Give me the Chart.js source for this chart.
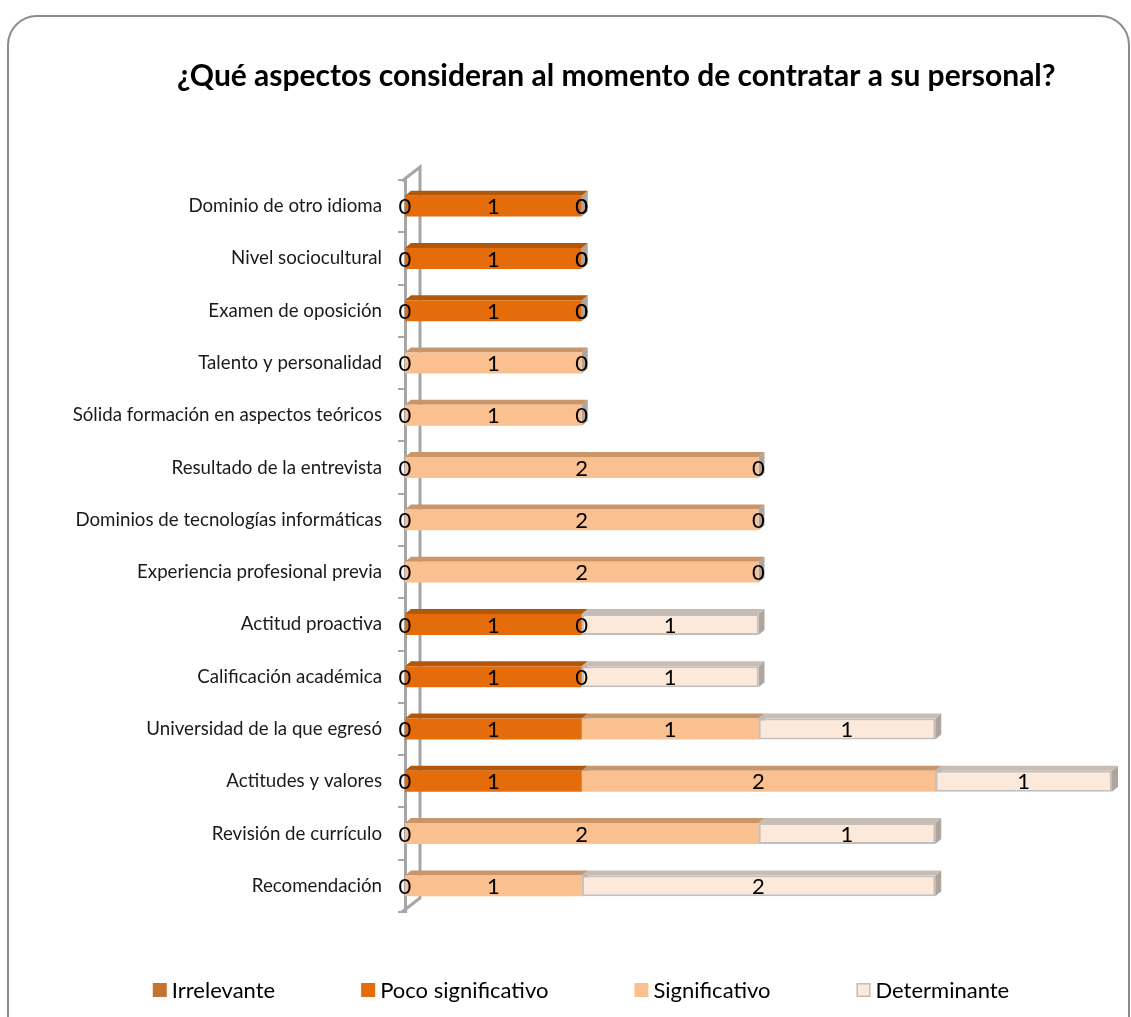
<!DOCTYPE html>
<html>
<head>
<meta charset="utf-8">
<script src="https://cdn.jsdelivr.net/npm/chart.js@4.4.1/dist/chart.umd.min.js"></script>
<style>
  html, body { margin: 0; padding: 0; background: #fff; overflow: hidden; }
  #wrap { position: relative; width: 1131px; height: 1017px; overflow: hidden; }
  #frame {
    position: absolute; left: 7px; top: 15px; width: 1119px; height: 1100px;
    border: 2px solid #8c8c8c; border-radius: 30px;
  }
  #chart { position: absolute; left: 0; top: 0; }
</style>
</head>
<body>
<div id="wrap">
  <div id="frame"></div>
  <canvas id="chart" width="1131" height="1017"></canvas>
</div>
<script>
const chartTitle = '¿Qué aspectos consideran al momento de contratar a su personal?';
const categories = [
    'Dominio de otro idioma',
    'Nivel sociocultural',
    'Examen de oposición',
    'Talento y personalidad',
    'Sólida formación en aspectos teóricos',
    'Resultado de la entrevista',
    'Dominios de tecnologías informáticas',
    'Experiencia profesional previa',
    'Actitud proactiva',
    'Calificación académica',
    'Universidad de la que egresó',
    'Actitudes y valores',
    'Revisión de currículo',
    'Recomendación'
];
const seriesNames = ['Irrelevante', 'Poco significativo', 'Significativo', 'Determinante'];
const irrelevante       = [0, 0, 0, 0, 0, 0, 0, 0, 0, 0, 0, 0, 0, 0];
const pocoSignificativo = [1, 1, 1, null, null, null, null, null, 1, 1, 1, 1, null, null];
const significativo     = [0, 0, 0, 1, 1, 2, 2, 2, 0, 0, 1, 2, 2, 1];
const determinante      = [0, 0, 0, 0, 0, 0, 0, 0, 1, 1, 1, 1, 1, 2];

// front / top / side colours for the fake 3d look
const fronts = ['#c47430', '#e46c0a', '#fac090', '#fde9d9'];
const tops   = ['#9a5a24', '#b35709', '#c9956a', '#c9bdb3'];
const sideColor = '#b0a59c';
const depthX = 6, depthY = 5;

const font = 'Lato, "Open Sans", sans-serif';

// back wall line, bar tops and sides
const depthPlugin = {
    id: 'depth',
    beforeDatasetsDraw(chart) {
        const ctx = chart.ctx;
        const a = chart.chartArea;
        ctx.save();
        ctx.strokeStyle = '#a6a6a6';
        ctx.lineWidth = 3;
        ctx.beginPath();
        ctx.moveTo(a.left - 3, a.top + 1);
        ctx.lineTo(a.left + 15, a.top - 13);
        ctx.lineTo(a.left + 15, a.bottom - 14);
        ctx.lineTo(a.left - 3, a.bottom);
        ctx.stroke();

        for (let i = 0; i < categories.length; i++) {
            const segs = [];
            chart.data.datasets.forEach((ds, di) => {
                const v = ds.data[i];
                if (v === null || v === 0) return;
                const el = chart.getDatasetMeta(di).data[i];
                const p = el.getProps(['x', 'y', 'base', 'height'], true);
                segs.push({ di, x0: Math.min(p.base, p.x), x1: Math.max(p.base, p.x), y0: p.y - p.height / 2, y1: p.y + p.height / 2 });
            });
            segs.forEach(s => {
                ctx.fillStyle = sideColor;
                ctx.beginPath();
                ctx.moveTo(s.x1, s.y0);
                ctx.lineTo(s.x1 + depthX, s.y0 - depthY);
                ctx.lineTo(s.x1 + depthX, s.y1 - depthY);
                ctx.lineTo(s.x1, s.y1);
                ctx.closePath();
                ctx.fill();
            });
            segs.forEach(s => {
                ctx.fillStyle = tops[s.di];
                ctx.beginPath();
                ctx.moveTo(s.x0, s.y0);
                ctx.lineTo(s.x0 + depthX, s.y0 - depthY);
                ctx.lineTo(s.x1 + depthX, s.y0 - depthY);
                ctx.lineTo(s.x1, s.y0);
                ctx.closePath();
                ctx.fill();
            });
        }
        ctx.restore();
    }
};

// value labels, title and legend
const textPlugin = {
    id: 'texts',
    afterDatasetsDraw(chart) {
        const ctx = chart.ctx;
        ctx.save();
        ctx.font = '22px ' + font;
        ctx.fillStyle = '#000';
        ctx.textAlign = 'center';
        ctx.textBaseline = 'middle';
        chart.data.datasets.forEach((ds, di) => {
            chart.getDatasetMeta(di).data.forEach((el, i) => {
                const v = ds.data[i];
                if (v === null) return;
                const p = el.getProps(['x', 'y', 'base'], true);
                ctx.fillText(String(v), (p.x + p.base) / 2, p.y + 1);
            });
        });
        ctx.restore();
    },
    afterDraw(chart) {
        const ctx = chart.ctx;
        ctx.save();
        ctx.fillStyle = '#000';
        ctx.textBaseline = 'alphabetic';
        ctx.textAlign = 'left';
        ctx.font = 'bold 30px ' + font;
        ctx.fillText(chartTitle, 177, 86);

        // legend
        ctx.font = '22px ' + font;
        ctx.textBaseline = 'middle';
        const box = 14, gapBox = 5, gapItem = 86;
        const widths = seriesNames.map(n => box + gapBox + ctx.measureText(n).width);
        const total = widths.reduce((s, w) => s + w, 0) + gapItem * (widths.length - 1);
        let x = 581 - total / 2;
        const y = 990;
        seriesNames.forEach((n, i) => {
            ctx.fillStyle = fronts[i];
            ctx.fillRect(x, y - box / 2, box, box);
            if (i === 3) {
                ctx.strokeStyle = '#bfbfbf';
                ctx.lineWidth = 1.5;
                ctx.strokeRect(x + 0.75, y - box / 2 + 0.75, box - 1.5, box - 1.5);
            }
            ctx.fillStyle = '#000';
            ctx.fillText(n, x + box + gapBox, y + 1);
            x += widths[i] + gapItem;
        });
        ctx.restore();
    }
};

function makeSet(label, data, i) {
    return {
        label: label,
        data: data,
        backgroundColor: fronts[i],
        borderColor: '#c0c0c0',
        borderWidth: c => (i === 3 && c.raw) ? 2 : 0,
        borderSkipped: false,
        barPercentage: 0.4,
        categoryPercentage: 1
    };
}

const ctx = document.getElementById('chart').getContext('2d');
const chart = new Chart(ctx, {
    type: 'bar',
    data: {
        labels: categories,
        datasets: [
            makeSet(seriesNames[0], irrelevante, 0),
            makeSet(seriesNames[1], pocoSignificativo, 1),
            makeSet(seriesNames[2], significativo, 2),
            makeSet(seriesNames[3], determinante, 3)
        ]
    },
    options: {
        indexAxis: 'y',
        responsive: false,
        animation: false,
        layout: { padding: { left: 0, right: 19, top: 180, bottom: 105 } },
        plugins: {
            legend: { display: false },
            title: { display: false },
            tooltip: { enabled: false }
        },
        scales: {
            x: {
                stacked: true,
                display: false,
                min: 0,
                max: 4
            },
            y: {
                stacked: true,
                afterFit(scale) { scale.width = 405; },
                grid: {
                    offset: true,
                    drawOnChartArea: false,
                    drawTicks: true,
                    tickLength: 7,
                    color: '#a6a6a6',
                    lineWidth: 2
                },
                border: { color: '#a6a6a6', width: 3 },
                ticks: {
                    padding: 16,
                    color: '#1a1a1a',
                    font: { family: font, size: 18.7 }
                }
            }
        }
    },
    plugins: [depthPlugin, textPlugin]
});
</script>
</body>
</html>
